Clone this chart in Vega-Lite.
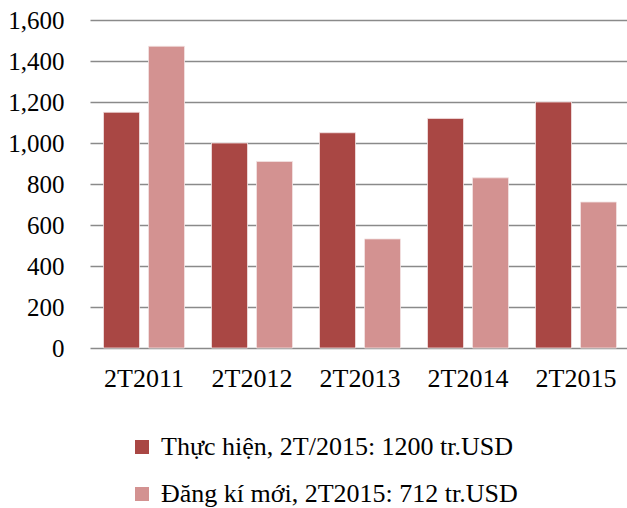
{
  "$schema": "https://vega.github.io/schema/vega-lite/v6.json",
  "autosize": {"type": "none"},
  "padding": {"left": 90, "top": 20, "right": 0, "bottom": 160},
  "width": 540,
  "height": 328,
  "background": "white",
  "data": {
    "values": [
      {"period": "2T2011", "series": "Thực hiện, 2T/2015: 1200 tr.USD", "value": 1150},
      {"period": "2T2011", "series": "Đăng kí mới, 2T2015: 712 tr.USD", "value": 1472},
      {"period": "2T2012", "series": "Thực hiện, 2T/2015: 1200 tr.USD", "value": 1000},
      {"period": "2T2012", "series": "Đăng kí mới, 2T2015: 712 tr.USD", "value": 910},
      {"period": "2T2013", "series": "Thực hiện, 2T/2015: 1200 tr.USD", "value": 1050},
      {"period": "2T2013", "series": "Đăng kí mới, 2T2015: 712 tr.USD", "value": 532},
      {"period": "2T2014", "series": "Thực hiện, 2T/2015: 1200 tr.USD", "value": 1120},
      {"period": "2T2014", "series": "Đăng kí mới, 2T2015: 712 tr.USD", "value": 830},
      {"period": "2T2015", "series": "Thực hiện, 2T/2015: 1200 tr.USD", "value": 1200},
      {"period": "2T2015", "series": "Đăng kí mới, 2T2015: 712 tr.USD", "value": 712}
    ]
  },
  "mark": {"type": "bar", "stroke": "#f3e3e3", "strokeWidth": 0.8},
  "encoding": {
    "x": {
      "field": "period", "type": "nominal", "title": null,
      "scale": {"paddingInner": 0.25, "paddingOuter": 0.125},
      "axis": {"labelAngle": 0, "ticks": false, "domain": false, "grid": false, "labelFont": "Liberation Serif", "labelFontSize": 26, "labelColor": "#000", "labelPadding": 30, "labelBaseline": "middle"}
    },
    "xOffset": {
      "field": "series", "type": "nominal",
      "sort": ["Thực hiện, 2T/2015: 1200 tr.USD", "Đăng kí mới, 2T2015: 712 tr.USD"],
      "scale": {"paddingInner": 0.2, "paddingOuter": 0}
    },
    "y": {
      "field": "value", "type": "quantitative", "title": null,
      "scale": {"domain": [0, 1600], "nice": false},
      "axis": {"values": [0, 200, 400, 600, 800, 1000, 1200, 1400, 1600], "format": ",.0f", "ticks": false, "domain": false, "grid": true, "gridColor": "#8a8a8a", "gridWidth": 1.5, "gridOpacity": 1, "labelFont": "Liberation Serif", "labelFontSize": 25, "labelColor": "#000", "labelPadding": 26}
    },
    "color": {
      "field": "series", "type": "nominal",
      "sort": ["Thực hiện, 2T/2015: 1200 tr.USD", "Đăng kí mới, 2T2015: 712 tr.USD"],
      "scale": {"range": ["#A94744", "#D39291"]},
      "legend": {
        "title": null, "orient": "none", "legendX": 39, "legendY": 414,
        "direction": "vertical", "symbolType": "square", "symbolSize": 196,
        "symbolStrokeWidth": 0, "labelFont": "Liberation Serif", "labelFontSize": 26,
        "labelColor": "#000", "rowPadding": 21, "labelOffset": 6, "labelLimit": 500
      }
    }
  },
  "config": {"view": {"stroke": null}, "axis": {"labelFont": "Liberation Serif"}, "legend": {"labelFont": "Liberation Serif"}}
}
